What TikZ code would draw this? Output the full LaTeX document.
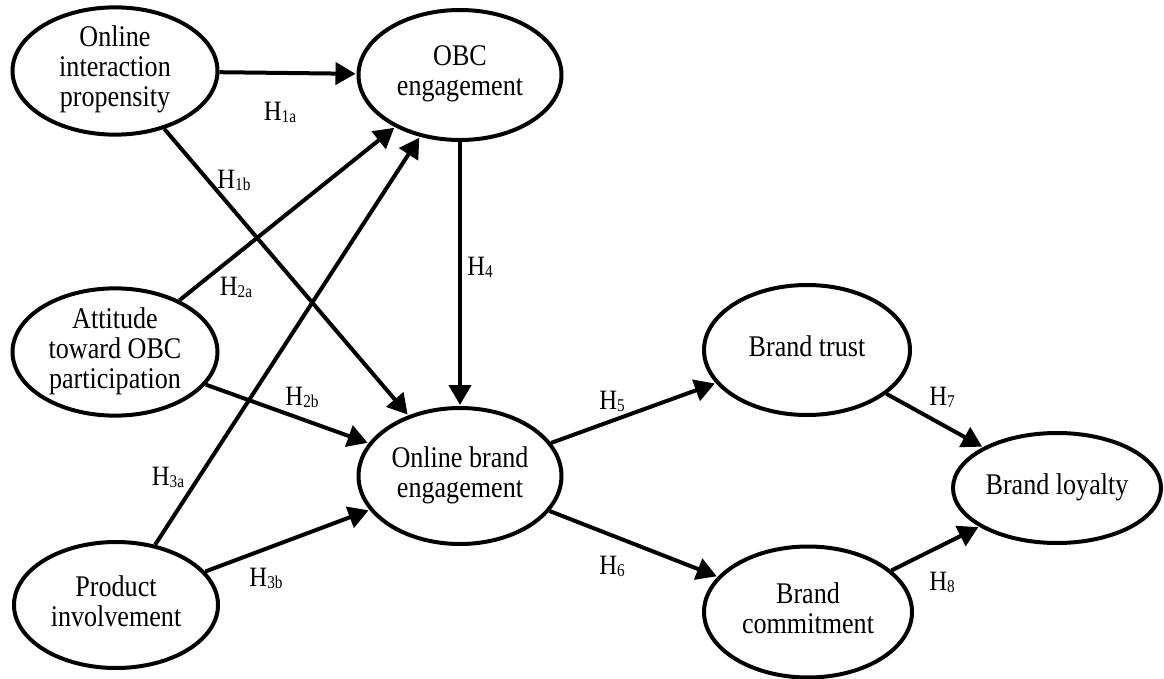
\documentclass[tikz,border=0pt]{standalone}
\usepackage{fontspec}
\setmainfont{Liberation Serif}
\usetikzlibrary{shapes.geometric,arrows.meta}

% construct name: tall, slightly narrow serif lines
\newcommand{\ctext}[1]{\scalebox{0.87}[1]{\fontsize{30}{30}\selectfont
  \begin{tabular}{@{}c@{}}#1\end{tabular}}}
% hypothesis label: H with a smaller index
\newcommand{\hyplab}[1]{\scalebox{0.88}[1]{\fontsize{28}{28}\selectfont H}%
  \raisebox{-2pt}{\scalebox{0.85}[1]{\fontsize{18}{18}\selectfont #1}}}

\begin{document}
\begin{tikzpicture}[x=1pt,y=-1pt,
  construct/.style={ellipse, draw, line width=4pt, inner sep=0pt},
  link/.style={line width=4pt, -{Triangle[length=20pt,width=22pt]}, shorten >=1pt},
  hyp/.style={inner sep=0pt}]
\useasboundingbox (0,0) rectangle (1164,679);

% constructs
\node[construct, minimum width=205pt, minimum height=124pt] (oip) at (115,71) {\ctext{Online\\interaction\\propensity}};
\node[construct, minimum width=203pt, minimum height=130pt] (obc) at (460,75) {\ctext{OBC\\engagement}};
\node[construct, minimum width=205pt, minimum height=123pt] (att) at (115,352) {\ctext{Attitude\\toward OBC\\participation}};
\node[construct, minimum width=204pt, minimum height=126pt] (pin) at (116,605) {\ctext{Product\\involvement}};
\node[construct, minimum width=203pt, minimum height=136pt] (obe) at (460,476) {\ctext{Online brand\\engagement}};
\node[construct, minimum width=206pt, minimum height=130pt] (btr) at (807,350) {\ctext{Brand trust}};
\node[construct, minimum width=208pt, minimum height=131pt] (bco) at (808,612) {\ctext{Brand\\commitment}};
\node[construct, minimum width=208pt, minimum height=110pt] (blo) at (1057,488) {\ctext{Brand loyalty}};

% paths
\draw[link] (oip) -- (obc);
\draw[link] (oip) -- (obe);
\draw[link] (att) -- (obc);
\draw[link] (pin) -- (obc);
\draw[link] (att) -- (obe);
\draw[link] (pin) -- (obe);
\draw[link] (obc) -- (obe);
\draw[link] (obe) -- (btr);
\draw[link] (obe) -- (bco);
\draw[link] (btr) -- (blo);
\draw[link] (bco) -- (blo);

% hypothesis labels
\node[hyp] (h1a) at (280,112) {\hyplab{1a}};
\node[hyp] (h1b) at (234,180) {\hyplab{1b}};
\node[hyp] (h2a) at (236,287) {\hyplab{2a}};
\node[hyp] (h2b) at (302,397) {\hyplab{2b}};
\node[hyp] (h3a) at (168,477) {\hyplab{3a}};
\node[hyp] (h3b) at (266,578) {\hyplab{3b}};
\node[hyp] (h4) at (480,267) {\hyplab{4}};
\node[hyp] (h5) at (612,401) {\hyplab{5}};
\node[hyp] (h6) at (612,566) {\hyplab{6}};
\node[hyp] (h7) at (942,397) {\hyplab{7}};
\node[hyp] (h8) at (942,582) {\hyplab{8}};
\end{tikzpicture}
\end{document}
